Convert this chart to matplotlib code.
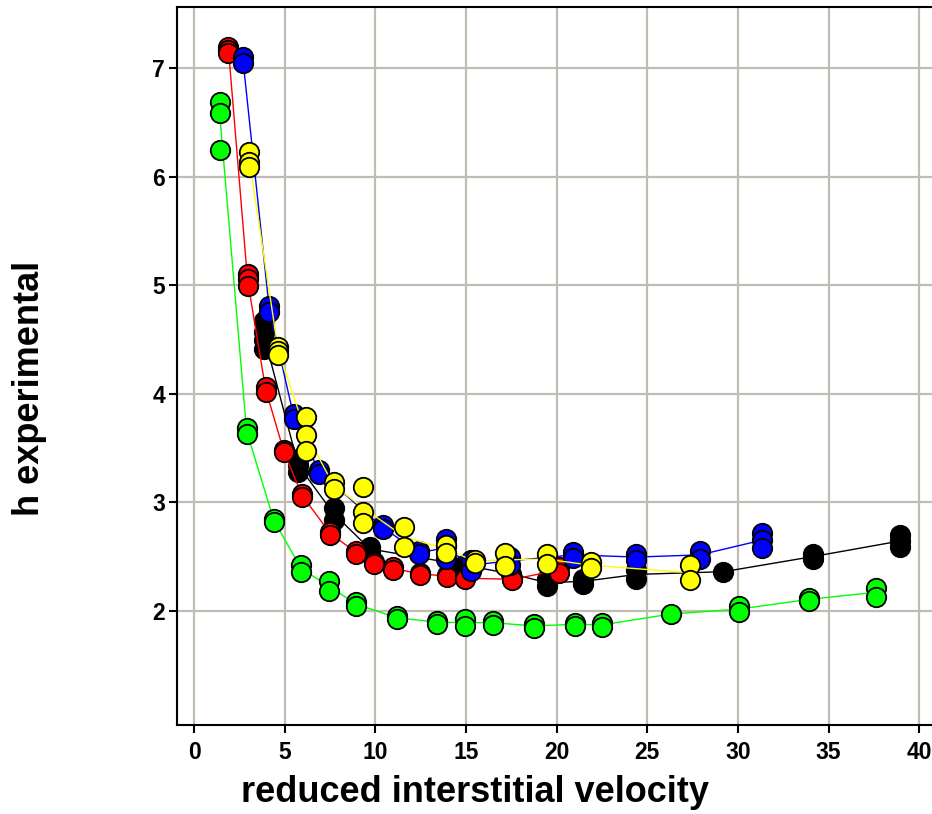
import matplotlib
matplotlib.use("Agg")
import matplotlib.pyplot as plt
import pandas as pd

plt.rcParams["font.family"] = ["Liberation Sans", "DejaVu Sans"]
plt.rcParams["font.weight"] = "bold"

green_x = [1.45, 1.45, 1.45, 2.9, 2.9, 4.4, 4.4, 5.9, 5.9, 7.45, 7.45, 8.95, 8.95,
           11.2, 11.2, 13.4, 13.4, 14.95, 14.95, 16.5, 16.5, 18.75, 18.75, 21.0, 21.0,
           22.5, 22.5, 26.3, 30.05, 30.05, 33.9, 33.9, 37.6, 37.6]
green_y = [6.69, 6.59, 6.25, 3.68, 3.63, 2.85, 2.82, 2.42, 2.36, 2.27, 2.18, 2.08, 2.04,
           1.95, 1.92, 1.91, 1.88, 1.92, 1.86, 1.91, 1.87, 1.88, 1.84, 1.89, 1.86,
           1.89, 1.85, 1.97, 2.04, 1.99, 2.12, 2.09, 2.21, 2.13]

black_x = [3.85, 3.85, 3.85, 3.85, 5.75, 5.75, 5.75, 7.7, 7.7, 9.7, 9.7, 14.9, 17.5,
           19.45, 19.45, 21.45, 21.45, 24.4, 24.4, 29.2, 34.15, 34.15, 38.95, 38.95, 38.95]
black_y = [4.67, 4.57, 4.50, 4.41, 3.40, 3.34, 3.28, 2.95, 2.84, 2.59, 2.55, 2.42, 2.34,
           2.29, 2.23, 2.29, 2.25, 2.38, 2.29, 2.36, 2.52, 2.48, 2.70, 2.64, 2.59]

red_x = [1.9, 1.9, 1.9, 2.95, 2.95, 2.95, 3.95, 3.95, 4.95, 4.95, 5.95, 5.95, 7.5, 7.5,
         8.95, 8.95, 9.95, 9.95, 11.0, 11.0, 12.45, 12.45, 13.95, 13.95, 14.95, 14.95,
         17.55, 17.55, 20.15, 20.15]
red_y = [7.20, 7.17, 7.14, 5.10, 5.06, 4.99, 4.06, 4.02, 3.48, 3.46, 3.08, 3.05, 2.73, 2.70,
         2.55, 2.52, 2.45, 2.43, 2.40, 2.38, 2.35, 2.33, 2.33, 2.31, 2.31, 2.29,
         2.30, 2.28, 2.40, 2.35]

blue_x = [2.7, 2.7, 4.15, 4.15, 5.5, 5.5, 6.9, 6.9, 10.4, 10.4, 12.4, 12.4,
          13.9, 13.9, 13.9, 15.25, 15.25, 17.45, 17.45, 20.9, 20.9, 24.4, 24.4,
          27.9, 27.9, 31.3, 31.3, 31.3]
blue_y = [7.10, 7.05, 4.81, 4.75, 3.81, 3.77, 3.30, 3.26, 2.79, 2.75, 2.55, 2.52,
          2.66, 2.60, 2.48, 2.47, 2.37, 2.50, 2.42, 2.54, 2.49, 2.52, 2.47,
          2.55, 2.48, 2.72, 2.65, 2.58]

yellow_x = [3.05, 3.05, 3.05, 4.65, 4.65, 4.65, 6.2, 6.2, 6.2, 7.7, 7.7, 9.3, 9.3, 9.3,
            11.6, 11.6, 13.9, 13.9, 15.5, 15.5, 17.15, 17.15, 19.45, 19.45, 21.9, 21.9,
            27.35, 27.35]
yellow_y = [6.23, 6.14, 6.09, 4.43, 4.39, 4.36, 3.79, 3.62, 3.47, 3.19, 3.12, 3.14, 2.91, 2.81,
            2.77, 2.59, 2.61, 2.53, 2.47, 2.44, 2.53, 2.41, 2.52, 2.43, 2.45, 2.39,
            2.42, 2.28]

# drawing order bottom -> top
series = [
    ("#00ff00", green_x, green_y),
    ("#000000", black_x, black_y),
    ("#ff0000", red_x, red_y),
    ("#0000ff", blue_x, blue_y),
    ("#ffff00", yellow_x, yellow_y),
]

fig = plt.figure(figsize=(9.32, 8.14), dpi=100)
ax = fig.add_axes([177 / 932, 1 - 725 / 814, 1 - 177 / 932, (725 - 7) / 814])

for i, (colour, xs, ys) in enumerate(series):
    df = pd.DataFrame({"x": xs, "y": ys})
    mean = df.groupby("x", sort=True)["y"].mean()
    ax.plot(mean.index, mean.values, color=colour, lw=1.0, zorder=3 + 2 * i)
    ax.plot(xs, ys, "o", ms=14, mfc=colour, mec="black", mew=1.3, zorder=4 + 2 * i)

ax.set_xlim(-0.94, 40.7)
ax.set_ylim(0.947, 7.565)
ax.set_xticks(range(0, 41, 5))
ax.set_yticks(range(2, 8))

ax.grid(True, color="#c0bdb5", lw=1.6, zorder=0)
ax.set_axisbelow(True)
ax.spines["right"].set_visible(False)
for s in ("left", "bottom", "top"):
    ax.spines[s].set_linewidth(1.5)
ax.tick_params(axis="both", direction="out", length=5.5, width=1.5, labelsize=16.5)
ax.tick_params(axis="y", pad=3)
ax.tick_params(axis="x", pad=6)

fig.text(475 / 932, 1 - 793 / 814, "reduced interstitial velocity",
         ha="center", va="center", fontsize=26, fontweight="bold")
fig.text(30 / 932, 1 - 388 / 814, "h experimental", rotation=90,
         ha="center", va="center", fontsize=26, fontweight="bold")

fig.savefig("out.png", dpi=100)
